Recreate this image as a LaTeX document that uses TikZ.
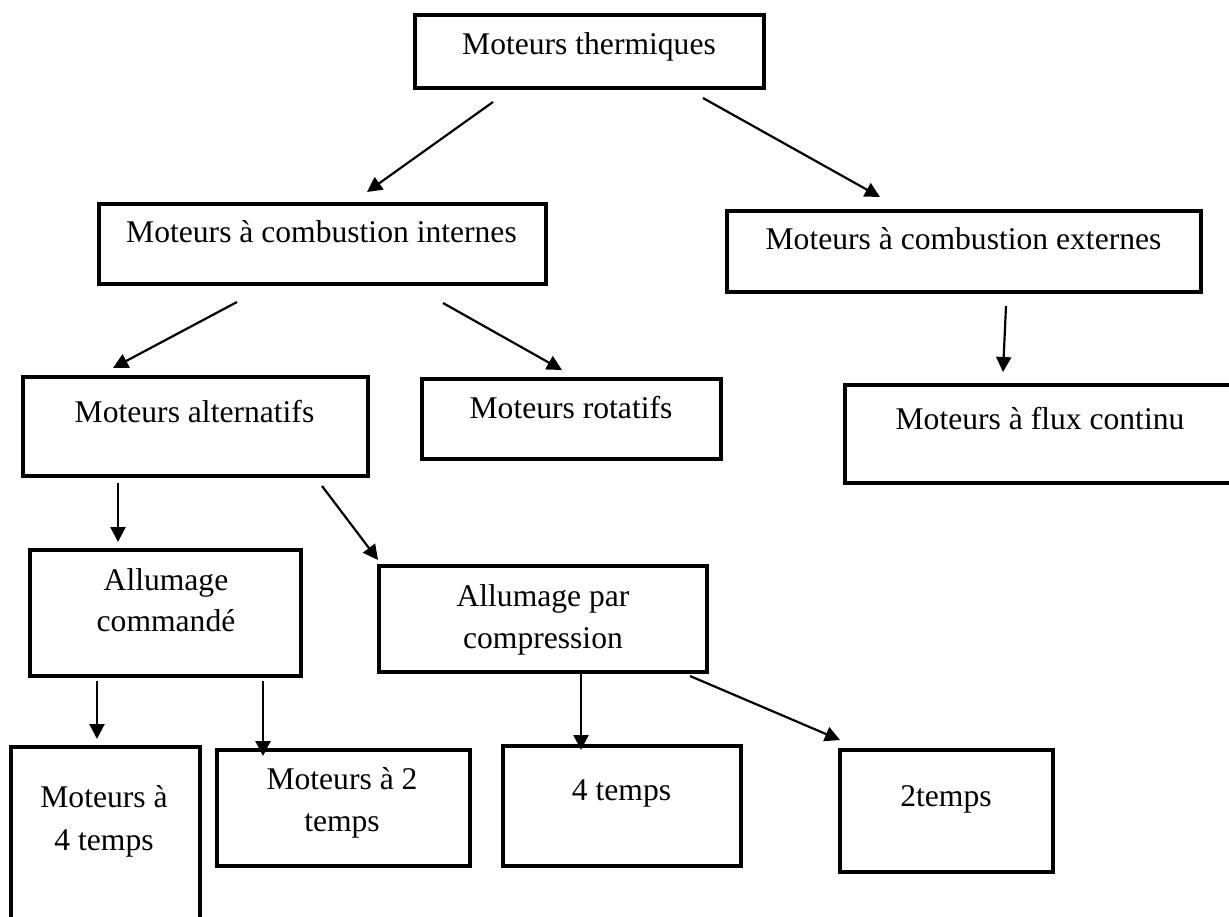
\documentclass[tikz,border=0pt]{standalone}
\usepackage{fontspec}
\setmainfont{Liberation Serif}
\usetikzlibrary{arrows.meta}
\begin{document}
\begin{tikzpicture}[x=1pt,y=-1pt,
  box/.style={draw=black,line width=4.8pt,inner sep=0pt,outer sep=0pt,rectangle},
  txt/.style={inner sep=0pt,anchor=base,font=\fontsize{31.6}{40}\selectfont},
  arr/.style={line width=2.2pt,-{Triangle[length=15pt,width=15pt]}}]
\useasboundingbox (0,0) rectangle (1229,917);
\fill[white] (0,0) rectangle (1229,917);
% boxes
\node[box,minimum width=349pt,minimum height=73pt] (therm) at (589.5,51.5) {};
\node[box,minimum width=447pt,minimum height=80pt] (intern) at (322.5,244) {};
\node[box,minimum width=474pt,minimum height=81pt] (extern) at (964,251.5) {};
\node[box,minimum width=345pt,minimum height=99pt] (altern) at (195.5,426.5) {};
\node[box,minimum width=299pt,minimum height=80pt] (rotat) at (571.5,419) {};
\node[box,minimum width=400pt,minimum height=98pt] (flux) at (1045,434) {};
\node[box,minimum width=271pt,minimum height=126pt] (comm) at (165.5,613) {};
\node[box,minimum width=328pt,minimum height=106pt] (compr) at (543,619) {};
\node[box,minimum width=189pt,minimum height=213pt] (mq) at (105.5,853.5) {};
\node[box,minimum width=253pt,minimum height=116pt] (md) at (343.5,808) {};
\node[box,minimum width=238pt,minimum height=120pt] (tq) at (622,806) {};
\node[box,minimum width=213pt,minimum height=122pt] (td) at (946.5,811) {};
% texts
\node[txt] (therm-t) at (589,55) {Moteurs thermiques};
\node[txt] (intern-t) at (321.5,243) {Moteurs à combustion internes};
\node[txt] (extern-t) at (963.5,250) {Moteurs à combustion externes};
\node[txt] (altern-t) at (194.5,422) {Moteurs alternatifs};
\node[txt] (rotat-t) at (571,418) {Moteurs rotatifs};
\node[txt] (flux-t) at (1040,429) {Moteurs à flux continu};
\node[txt] (comm-a) at (166,590) {Allumage};
\node[txt] (comm-b) at (166,631) {commandé};
\node[txt] (compr-a) at (543,606) {Allumage par};
\node[txt] (compr-b) at (543,648) {compression};
\node[txt] (mq-a) at (104,807) {Moteurs à};
\node[txt] (mq-b) at (104,850) {4 temps};
\node[txt] (md-a) at (342,789) {Moteurs à 2};
\node[txt] (md-b) at (342,831) {temps};
\node[txt] (tq-t) at (621.5,800) {4 temps};
\node[txt] (td-t) at (946,806) {2temps};
% arrows
\draw[arr] ([shift={(-96.5,14)}]therm.south) -- ([shift={(44.5,-12)}]intern.north);
\draw[arr] ([shift={(113.5,10)}]therm.south) -- ([shift={(-84,-14)}]extern.north);
\draw[arr] ([shift={(-85.5,18)}]intern.south) -- ([shift={(-82.5,-9)}]altern.north);
\draw[arr] ([shift={(120.5,19)}]intern.south) -- ([shift={(-9.5,-9)}]rotat.north);
\draw[arr] ([shift={(42,14)}]extern.south) -- ([shift={(-42,-13)}]flux.north);
\draw[arr] ([shift={(-77.5,7)}]altern.south) -- ([shift={(-47.5,-8)}]comm.north);
\draw[arr] ([shift={(126.5,10)}]altern.south) -- ([shift={(-1,-6)}]compr.north west);
\draw[arr] ([shift={(-68.5,5)}]comm.south) -- ([shift={(-8.5,-8)}]mq.north);
\draw[arr] ([shift={(97.5,5)}]comm.south) -- ([shift={(-80.5,6)}]md.north);
\draw[arr] ([shift={(38,2)}]compr.south) -- ([shift={(-41,4)}]tq.north);
\draw[arr] ([shift={(147,4)}]compr.south) -- ([shift={(0,-10)}]td.north west);
\end{tikzpicture}
\end{document}
